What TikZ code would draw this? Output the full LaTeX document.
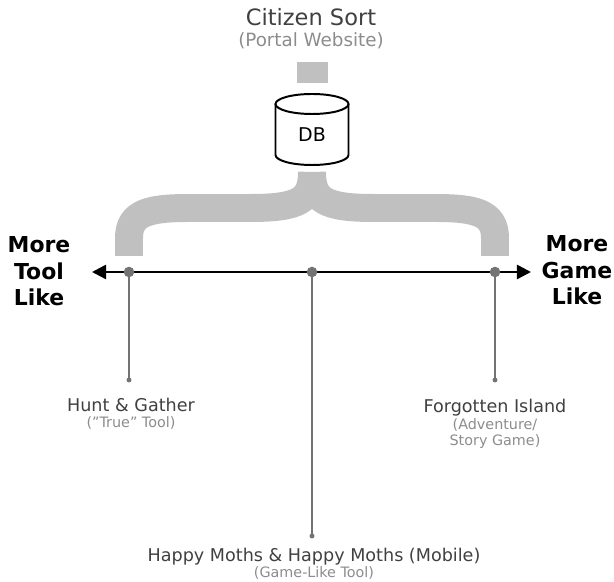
\documentclass[tikz,border=0pt]{standalone}
\usepackage{fontspec}
\setmainfont{DejaVu Sans}
\usetikzlibrary{arrows.meta}
\definecolor{darktext}{HTML}{404040}
\definecolor{subtext}{HTML}{8C8C8C}
\definecolor{bracegray}{HTML}{C0C0C0}
\definecolor{stemgray}{HTML}{737373}
\newcommand{\subline}[1]{{\color{subtext}\fontsize{10.2}{11.9}\selectfont #1}}
\begin{document}
\begin{tikzpicture}[x=0.025cm, y=-0.025cm,
    game/.style={align=center, text=darktext, inner sep=0pt, font=\fontsize{12.5}{11.9}\selectfont},
    side/.style={align=center, inner sep=0pt, font=\bfseries\fontsize{15.6}{18.9}\selectfont},
    dot/.style={circle, fill=stemgray, inner sep=0pt, minimum size=7.5pt},
    enddot/.style={circle, fill=stemgray, inner sep=0pt, minimum size=3.5pt},
    stem/.style={draw=stemgray, line width=1.4pt},
    brace/.style={draw=bracegray, line width=19.9pt}]
  \useasboundingbox (0,0) rectangle (614,582);

  \node (Title) [anchor=base, text=darktext, font=\fontsize{16}{18}\selectfont] at (311,26) {Citizen Sort};
  \node (Portal) [anchor=base, text=subtext, font=\fontsize{13}{14}\selectfont] at (311,47) {(Portal Website)};
  \fill[bracegray] (297,62) rectangle (328,83);

  % database
  \draw[line width=1.4pt] (275.5,104) -- (275.5,155) arc[start angle=180, end angle=0, x radius=36.5, y radius=10] -- (348.5,104);
  \draw[line width=1.4pt] (312,104) ellipse [x radius=36.5, y radius=10];
  \node (DB) [font=\fontsize{13.5}{15}\selectfont] at (312,135) {DB};

  % brace
  \draw[brace] (129,256) -- (129,238) .. controls (129,212) and (150,208) .. (190,208) -- (250,208) .. controls (300,208) and (312,200) .. (312,172);
  \draw[brace] (495,256) -- (495,238) .. controls (495,212) and (474,208) .. (434,208) -- (374,208) .. controls (324,208) and (312,200) .. (312,172);

  % axis
  \coordinate (AxisL) at (92,272);
  \coordinate (AxisR) at (531,272);
  \draw[line width=1.8pt, {Triangle[length=10pt,width=10pt]}-{Triangle[length=10pt,width=10pt]}] (AxisL) -- (AxisR);
  \node (MoreTool) [side, anchor=base] at (39,306) {More\\Tool\\Like};
  \node (MoreGame) [side, anchor=base] at (577,305) {More\\Game\\Like};

  \coordinate (EndHunt) at (129,380);
  \coordinate (EndMoths) at (312,536);
  \coordinate (EndIsland) at (495,380);
  \draw[stem] (129,272) -- (EndHunt);
  \draw[stem] (312,272) -- (EndMoths);
  \draw[stem] (495,272) -- (EndIsland);
  \node (DotHunt) [dot] at (129,272) {};
  \node (DotMoths) [dot] at (312,272) {};
  \node (DotIsland) [dot] at (495,272) {};
  \node [enddot] at (EndHunt) {};
  \node [enddot] at (EndMoths) {};
  \node [enddot] at (EndIsland) {};

  \node (Hunt) [game, anchor=base] at (131,428) {Hunt \& Gather\\\subline{(”True” Tool)}};
  \node (Island) [game, anchor=base] at (495,446) {Forgotten Island\\\subline{(Adventure/}\\\subline{Story Game)}};
  \node (Moths) [game, anchor=base] at (314,578) {Happy Moths \& Happy Moths (Mobile)\\\subline{(Game-Like Tool)}};
\end{tikzpicture}
\end{document}
